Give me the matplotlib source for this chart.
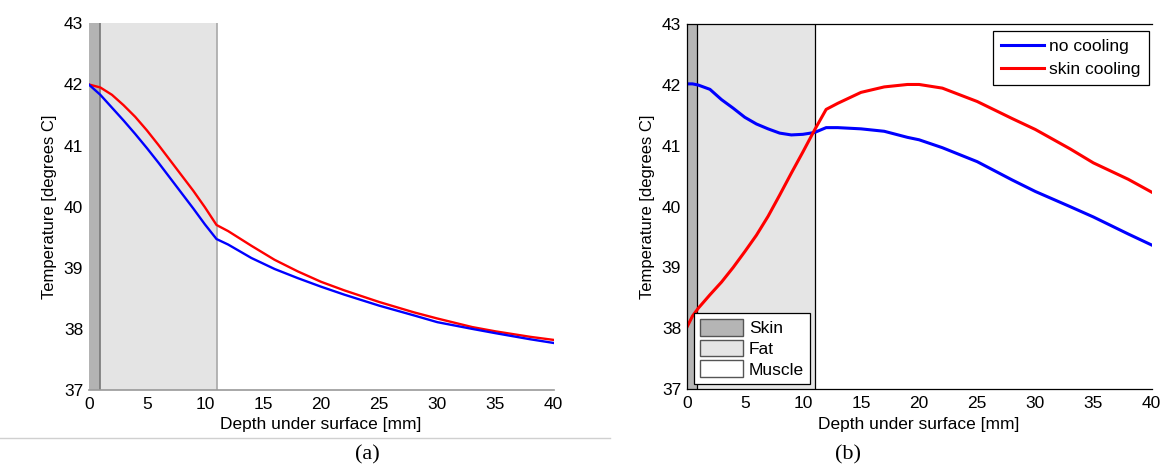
"""Temperature vs depth, no cooling vs skin cooling (two panels)."""
import matplotlib
matplotlib.use('Agg')
import matplotlib.pyplot as plt
from matplotlib.patches import Patch
from matplotlib.lines import Line2D

plt.rcParams['font.family'] = ['Liberation Sans', 'DejaVu Sans']

# tissue layer boundaries [mm]
skin_end_a = 1.0
fat_end_a = 11.0
skin_end_b = 0.9
fat_end_b = 11.0

# panel (a)
xa = [0, 1, 2, 3, 4, 5, 6, 7, 8, 9, 10, 11, 12, 14, 16, 18, 20, 22, 25, 28, 30, 33, 35, 38, 40]
blue_a = [42.0, 41.83, 41.62, 41.41, 41.19, 40.96, 40.72, 40.47, 40.22, 39.97, 39.71, 39.47,
          39.38, 39.16, 38.98, 38.83, 38.69, 38.56, 38.38, 38.22, 38.11, 38.00, 37.93, 37.83, 37.77]
red_a = [42.0, 41.95, 41.83, 41.66, 41.47, 41.25, 41.01, 40.76, 40.51, 40.26, 39.99, 39.70,
         39.60, 39.36, 39.13, 38.94, 38.77, 38.63, 38.44, 38.27, 38.17, 38.03, 37.96, 37.87, 37.82]

# panel (b)
xb = [0, 0.5, 1, 2, 3, 4, 5, 6, 7, 8, 9, 10, 11, 12, 13, 14, 15, 17, 19, 20, 22, 25, 28, 30,
      33, 35, 38, 40]
blue_b = [42.02, 42.02, 42.0, 41.93, 41.76, 41.62, 41.47, 41.36, 41.28, 41.21, 41.18, 41.19,
          41.22, 41.30, 41.30, 41.29, 41.28, 41.24, 41.14, 41.10, 40.97, 40.74, 40.44, 40.25,
          40.00, 39.83, 39.55, 39.37]
red_b = [38.01, 38.20, 38.33, 38.55, 38.76, 39.00, 39.26, 39.53, 39.84, 40.19, 40.55, 40.90,
         41.26, 41.60, 41.70, 41.79, 41.88, 41.97, 42.01, 42.01, 41.95, 41.73, 41.45, 41.27,
         40.95, 40.72, 40.45, 40.24]

series_labels = ['no cooling', 'skin cooling']
layer_labels = ['Skin', 'Fat', 'Muscle']
xticks = [0, 5, 10, 15, 20, 25, 30, 35, 40]
yticks = [37, 38, 39, 40, 41, 42, 43]

W, H = 1164, 467
fig = plt.figure(figsize=(W / 100, H / 100), dpi=100)


def fx(px):
    return px / W


def fy(py):
    return 1 - py / H


ax1 = fig.add_axes([fx(88.7), fy(390), fx(553.5 - 88.7), (390 - 23.3) / H])
ax2 = fig.add_axes([fx(686.7), fy(389), fx(1151.5 - 686.7), (389 - 24.3) / H])

# --- panel (a)
ax1.axvspan(0, skin_end_a, color='#b3b3b3', lw=0)
ax1.axvspan(skin_end_a, fat_end_a, color='#e4e4e4', lw=0)
ax1.axvline(skin_end_a, color='#777777', lw=1.2)
ax1.axvline(fat_end_a, color='#a8a8a8', lw=1.2)
ax1.plot(xa, red_a, color='#ff0000', lw=1.7)
ax1.plot(xa, blue_a, color='#0000ff', lw=1.7)
for s in ['top', 'right', 'left']:
    ax1.spines[s].set_visible(False)
ax1.spines['bottom'].set_color('#999999')
ax1.spines['bottom'].set_linewidth(1.2)

# --- panel (b)
ax2.axvspan(0, skin_end_b, color='#b5b5b5', lw=0)
ax2.axvspan(skin_end_b, fat_end_b, color='#e5e5e5', lw=0)
ax2.axvline(skin_end_b, color='black', lw=0.9)
ax2.axvline(fat_end_b, color='black', lw=0.9)
ax2.plot(xb, blue_b, color='#0000ff', lw=2.2)
ax2.plot(xb, red_b, color='#ff0000', lw=2.2)
ax2.spines['right'].set_visible(False)
for s in ['top', 'bottom', 'left']:
    ax2.spines[s].set_color('black')
    ax2.spines[s].set_linewidth(0.9)

for ax in (ax1, ax2):
    ax.set_xlim(0, 40)
    ax.set_ylim(37, 43)
    ax.set_xticks(xticks)
    ax.set_yticks(yticks)
    ax.tick_params(length=0, labelsize=12.5)
    ax.tick_params(axis='x', pad=5)
    ax.tick_params(axis='y', pad=4)
    ax.set_xlabel('Depth under surface [mm]', fontsize=12.5, labelpad=4)
    ax.set_ylabel('Temperature [degrees C]', fontsize=12, labelpad=5)

# legends in panel (b)
line_handles = [Line2D([], [], color='#0000ff', lw=2.2), Line2D([], [], color='#ff0000', lw=2.2)]
leg1 = ax2.legend(line_handles, series_labels, loc='upper left',
                  bbox_to_anchor=(fx(993), fy(31)), bbox_transform=fig.transFigure,
                  borderaxespad=0, fontsize=12.5, fancybox=False, framealpha=1,
                  edgecolor='black', handlelength=2.5, handletextpad=0.3,
                  labelspacing=0.45, borderpad=0.45)
leg1.get_frame().set_linewidth(0.9)
ax2.add_artist(leg1)

patch_handles = [Patch(facecolor='#b5b5b5', edgecolor='#555555'),
                 Patch(facecolor='#e5e5e5', edgecolor='#555555'),
                 Patch(facecolor='white', edgecolor='#555555')]
leg2 = ax2.legend(patch_handles, layer_labels, loc='upper left',
                  bbox_to_anchor=(fx(694), fy(313)), bbox_transform=fig.transFigure,
                  borderaxespad=0, fontsize=12.5, fancybox=False, framealpha=1,
                  edgecolor='black', handlelength=2.5, handleheight=1.1,
                  handletextpad=0.3, labelspacing=0.2, borderpad=0.35)
leg2.get_frame().set_linewidth(0.9)

# separator line and captions
fig.add_artist(Line2D([0, fx(610)], [fy(438), fy(438)], color='#d0d0d0', lw=1,
                      transform=fig.transFigure))
fig.text(fx(367), fy(455), '(a)', ha='center', va='center', fontsize=16,
         family='Liberation Serif')
fig.text(fx(848), fy(455), '(b)', ha='center', va='center', fontsize=16,
         family='Liberation Serif')

fig.savefig('out.png', dpi=100)
